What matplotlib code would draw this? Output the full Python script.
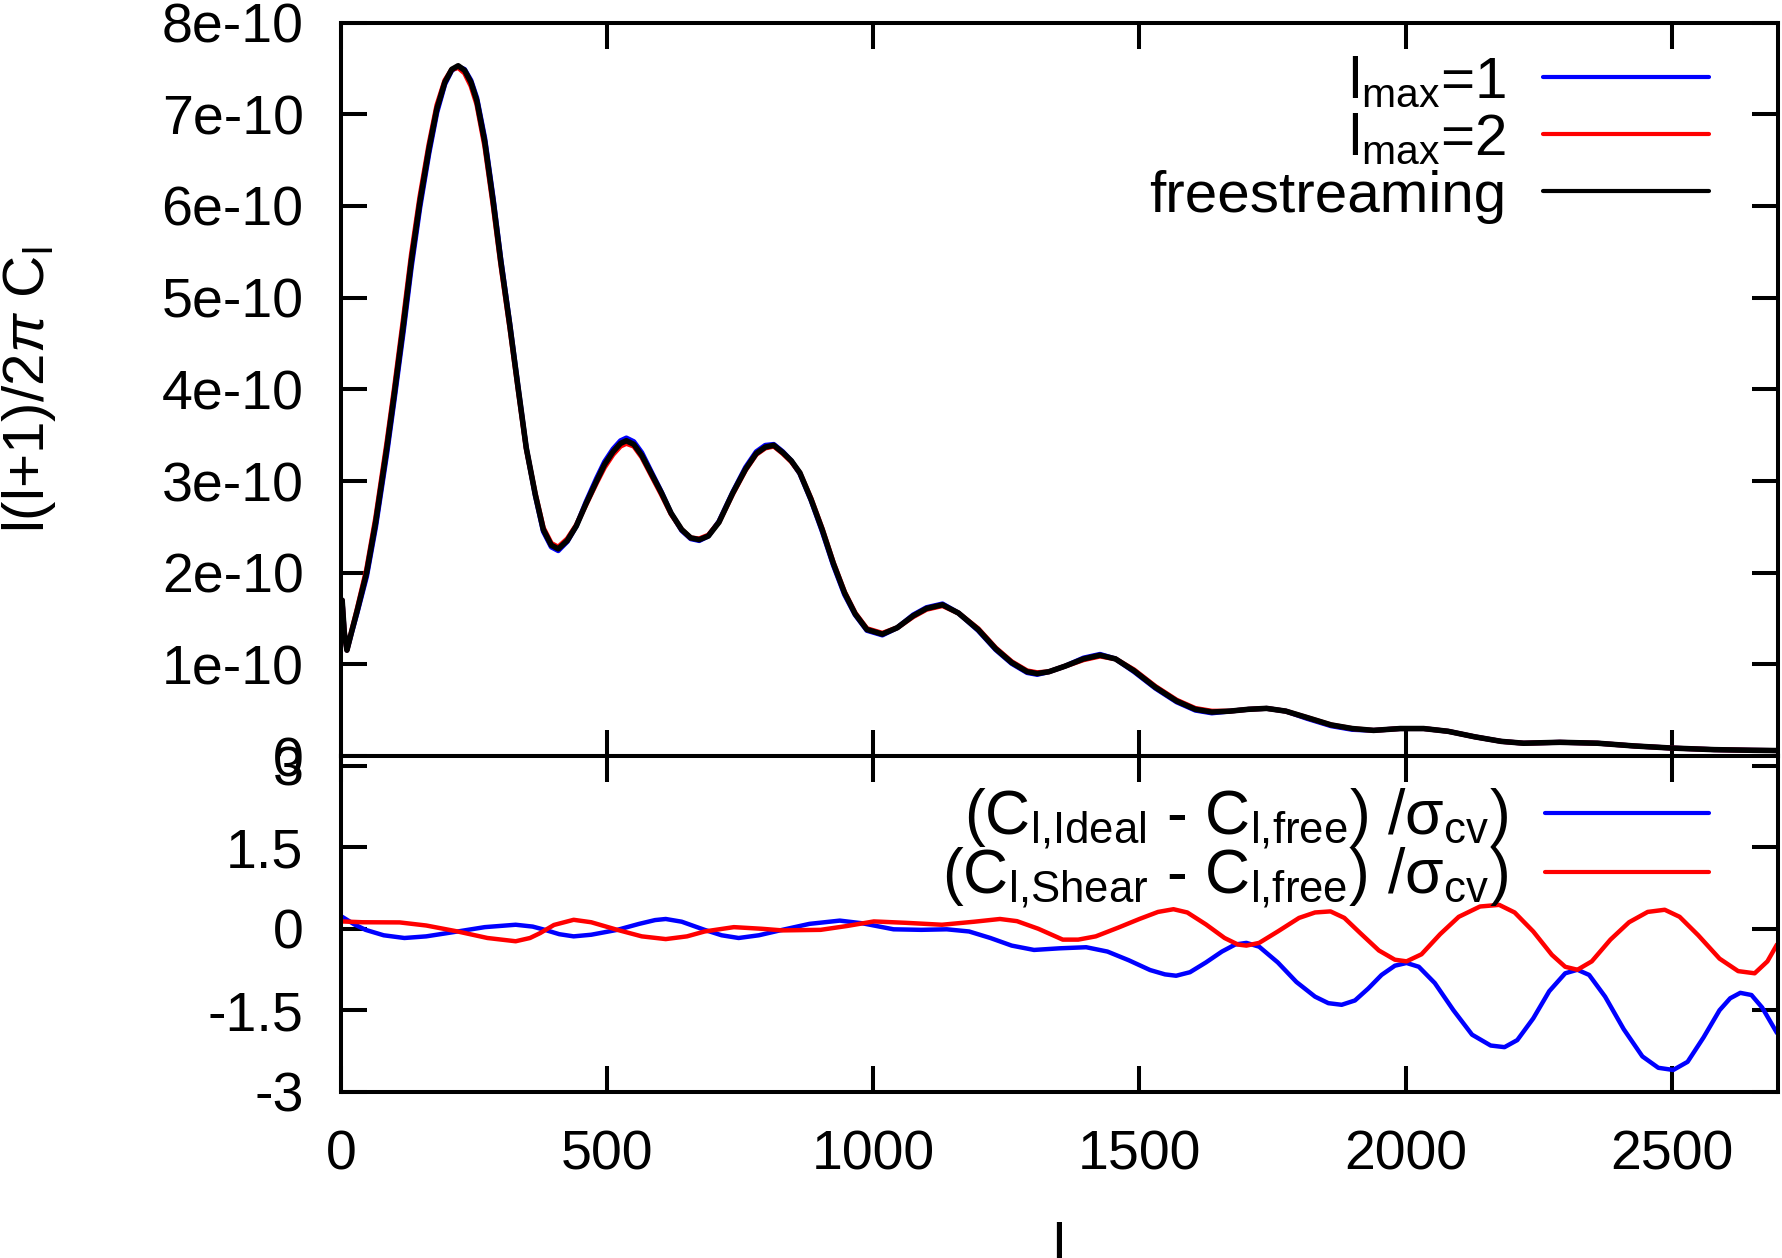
import matplotlib
matplotlib.use("Agg")
import matplotlib.pyplot as plt

plt.rcParams['font.family'] = ['Liberation Sans', 'DejaVu Sans']
plt.rcParams['mathtext.fontset'] = 'custom'
plt.rcParams['mathtext.rm'] = 'Liberation Sans'
plt.rcParams['mathtext.it'] = 'Liberation Sans:italic'
plt.rcParams['mathtext.bf'] = 'Liberation Sans:bold'

# ---- top panel: l(l+1)/2pi C_l, in units of 1e-10 ----
ell_top = [2, 6, 11, 20, 30, 48, 65, 86, 100, 117, 132, 148, 165, 180, 195,
           208, 220, 232, 244, 255, 270, 286, 300, 317, 333, 348, 365, 380,
           395, 408, 425, 442, 460, 480, 495, 511, 525, 536, 550, 565, 583,
           602, 620, 640, 657, 673, 690, 710, 736, 760, 780, 797, 813, 830,
           846, 862, 883, 904, 925, 946, 966, 988, 1017, 1045, 1075, 1100,
           1130, 1160, 1197, 1230, 1260, 1289, 1308, 1330, 1360, 1395, 1426,
           1455, 1490, 1530, 1570, 1605, 1636, 1670, 1705, 1739, 1775, 1815,
           1860, 1900, 1940, 1990, 2034, 2080, 2130, 2180, 2222, 2290, 2361,
           2430, 2501, 2580, 2650, 2697]
cl_free = [1.70, 1.35, 1.155, 1.36, 1.58, 2.00, 2.55, 3.36, 3.95, 4.70, 5.40,
           6.04, 6.62, 7.06, 7.35, 7.49, 7.53, 7.48, 7.35, 7.15, 6.70, 6.04,
           5.40, 4.70, 4.00, 3.36, 2.85, 2.47, 2.30, 2.26, 2.35, 2.51, 2.75,
           3.00, 3.18, 3.32, 3.41, 3.44, 3.40, 3.28, 3.08, 2.87, 2.65, 2.47,
           2.38, 2.36, 2.40, 2.55, 2.87, 3.13, 3.30, 3.37, 3.39, 3.31, 3.22,
           3.09, 2.80, 2.47, 2.10, 1.78, 1.55, 1.38, 1.33, 1.40, 1.53, 1.61,
           1.65, 1.56, 1.38, 1.17, 1.02, 0.92, 0.90, 0.92, 0.98, 1.06, 1.10,
           1.06, 0.93, 0.75, 0.60, 0.51, 0.48, 0.49, 0.51, 0.52, 0.49, 0.42,
           0.34, 0.30, 0.28, 0.30, 0.30, 0.27, 0.21, 0.16, 0.14, 0.15, 0.14,
           0.11, 0.087, 0.07, 0.063, 0.06]
cl_lmax1 = [1.70, 1.35, 1.155, 1.35, 1.56, 1.96, 2.50, 3.30, 3.89, 4.63, 5.33,
            5.98, 6.57, 7.02, 7.33, 7.48, 7.52, 7.49, 7.37, 7.18, 6.74, 6.08,
            5.43, 4.72, 4.01, 3.36, 2.84, 2.45, 2.28, 2.24, 2.34, 2.51, 2.77,
            3.03, 3.21, 3.35, 3.44, 3.47, 3.43, 3.31, 3.10, 2.88, 2.65, 2.46,
            2.37, 2.35, 2.40, 2.56, 2.88, 3.15, 3.32, 3.39, 3.40, 3.32, 3.22,
            3.08, 2.79, 2.45, 2.08, 1.76, 1.54, 1.37, 1.32, 1.40, 1.54, 1.62,
            1.66, 1.56, 1.37, 1.16, 1.01, 0.91, 0.89, 0.92, 0.98, 1.07, 1.11,
            1.06, 0.92, 0.74, 0.59, 0.50, 0.47, 0.49, 0.51, 0.52, 0.49, 0.41,
            0.33, 0.29, 0.28, 0.30, 0.30, 0.27, 0.21, 0.16, 0.14, 0.15, 0.14,
            0.11, 0.087, 0.07, 0.063, 0.06]
cl_lmax2 = [1.70, 1.35, 1.155, 1.37, 1.60, 2.04, 2.60, 3.42, 4.01, 4.77, 5.47,
            6.10, 6.67, 7.10, 7.37, 7.49, 7.51, 7.45, 7.31, 7.11, 6.65, 5.99,
            5.36, 4.67, 3.98, 3.35, 2.86, 2.49, 2.32, 2.28, 2.37, 2.52, 2.74,
            2.98, 3.15, 3.29, 3.38, 3.41, 3.38, 3.26, 3.06, 2.85, 2.64, 2.47,
            2.38, 2.37, 2.41, 2.55, 2.86, 3.12, 3.29, 3.36, 3.38, 3.30, 3.21,
            3.09, 2.81, 2.48, 2.11, 1.79, 1.56, 1.39, 1.34, 1.40, 1.52, 1.60,
            1.64, 1.56, 1.39, 1.18, 1.03, 0.93, 0.91, 0.92, 0.98, 1.05, 1.09,
            1.06, 0.94, 0.76, 0.61, 0.52, 0.49, 0.49, 0.51, 0.52, 0.49, 0.42,
            0.34, 0.30, 0.28, 0.30, 0.30, 0.27, 0.21, 0.16, 0.14, 0.15, 0.14,
            0.11, 0.087, 0.07, 0.063, 0.06]

# ---- bottom panel: (C_l,x - C_l,free)/sigma_cv ----
ell_ideal = [2, 25, 46, 80, 119, 160, 219, 270, 328, 360, 383, 410, 437, 470,
             519, 560, 590, 610, 640, 683, 715, 747, 785, 829, 880, 937, 980,
             1038, 1090, 1138, 1180, 1220, 1260, 1302, 1350, 1400, 1440, 1480,
             1520, 1548, 1569, 1595, 1625, 1655, 1680, 1701, 1725, 1760, 1795,
             1830, 1855, 1880, 1905, 1930, 1955, 1980, 2002, 2025, 2055, 2090,
             2125, 2160, 2186, 2210, 2240, 2270, 2300, 2323, 2345, 2375, 2410,
             2445, 2475, 2503, 2530, 2560, 2590, 2610, 2629, 2650, 2670, 2698]
dev_ideal = [0.22, 0.08, -0.02, -0.12, -0.17, -0.14, -0.05, 0.03, 0.074, 0.04,
             -0.02, -0.10, -0.14, -0.11, -0.02, 0.09, 0.16, 0.18, 0.13, -0.02,
             -0.12, -0.17, -0.12, -0.02, 0.09, 0.15, 0.10, -0.01, -0.02, -0.01,
             -0.05, -0.17, -0.31, -0.39, -0.36, -0.34, -0.42, -0.58, -0.76,
             -0.84, -0.865, -0.80, -0.62, -0.42, -0.29, -0.26, -0.33, -0.62,
             -0.98, -1.25, -1.37, -1.40, -1.32, -1.10, -0.85, -0.68, -0.63,
             -0.70, -1.00, -1.50, -1.95, -2.15, -2.18, -2.05, -1.65, -1.15,
             -0.82, -0.755, -0.85, -1.25, -1.85, -2.35, -2.56, -2.60, -2.45,
             -2.00, -1.50, -1.28, -1.18, -1.22, -1.45, -1.92]

ell_shear = [2, 40, 110, 160, 219, 275, 328, 355, 374, 400, 437, 470, 519, 565,
             610, 650, 683, 738, 790, 829, 901, 950, 1001, 1060, 1129, 1190,
             1238, 1270, 1310, 1356, 1385, 1418, 1460, 1500, 1535, 1564, 1590,
             1625, 1660, 1685, 1701, 1725, 1760, 1800, 1830, 1859, 1885, 1915,
             1950, 1980, 2002, 2030, 2065, 2100, 2140, 2176, 2205, 2240, 2275,
             2300, 2323, 2350, 2385, 2420, 2455, 2487, 2515, 2550, 2590, 2625,
             2656, 2680, 2698]
dev_shear = [0.135, 0.12, 0.117, 0.06, -0.05, -0.17, -0.23, -0.17, -0.08, 0.07,
             0.165, 0.12, -0.02, -0.14, -0.19, -0.14, -0.05, 0.03, 0.0, -0.03,
             -0.02, 0.05, 0.135, 0.11, 0.074, 0.13, 0.18, 0.14, 0.0, -0.20,
             -0.20, -0.14, 0.02, 0.18, 0.31, 0.36, 0.30, 0.08, -0.17, -0.29,
             -0.31, -0.26, -0.05, 0.20, 0.30, 0.32, 0.20, -0.08, -0.40, -0.57,
             -0.60, -0.47, -0.10, 0.22, 0.41, 0.44, 0.30, -0.05, -0.48, -0.70,
             -0.755, -0.60, -0.20, 0.12, 0.31, 0.35, 0.22, -0.12, -0.55, -0.78,
             -0.82, -0.60, -0.29]

top_yticks = [0, 1, 2, 3, 4, 5, 6, 7, 8]
top_yticklabels = ['0', '1e-10', '2e-10', '3e-10', '4e-10', '5e-10', '6e-10',
                   '7e-10', '8e-10']
bot_yticks = [-3, -1.5, 0, 1.5, 3]
bot_yticklabels = ['-3', '-1.5', '0', '1.5', '3']
xticks = [0, 500, 1000, 1500, 2000, 2500]

fig = plt.figure(figsize=(17.82, 12.58), dpi=100)
ax1 = fig.add_axes([0.1914, 0.399, 0.8064, 0.583])
ax2 = fig.add_axes([0.1914, 0.1322, 0.8064, 0.2668])

line_kw = dict(solid_joinstyle='round', solid_capstyle='round')
ax1.plot(ell_top, cl_lmax1, color='#0000ff', lw=3.6, label=r'l$_{\mathregular{max}}$=1', **line_kw)
ax1.plot(ell_top, cl_lmax2, color='#ff0000', lw=3.6, label=r'l$_{\mathregular{max}}$=2', **line_kw)
ax1.plot(ell_top, cl_free, color='black', lw=4.0, label='freestreaming', **line_kw)

ax2.plot(ell_ideal, dev_ideal, color='#0000ff', lw=3.2,
         label=r'(C$_{\mathregular{l{,}Ideal}}$ - C$_{\mathregular{l{,}free}}$) /σ$_{\mathregular{cv}}$)',
         **line_kw)
ax2.plot(ell_shear, dev_shear, color='#ff0000', lw=3.2,
         label=r'(C$_{\mathregular{l{,}Shear}}$ - C$_{\mathregular{l{,}free}}$) /σ$_{\mathregular{cv}}$)',
         **line_kw)

for ax in (ax1, ax2):
    ax.set_xlim(0, 2700)
    ax.set_xticks(xticks)
    for sp in ax.spines.values():
        sp.set_linewidth(2.9)
    ax.tick_params(direction='in', length=19, width=2.9, top=True, right=True,
                   labelsize=40, pad=27)

ax1.set_ylim(0, 8)
ax1.set_yticks(top_yticks)
ax1.set_yticklabels(top_yticklabels)
ax1.tick_params(labelbottom=False)

ax2.set_ylim(-3, 3.18)
ax2.set_yticks(bot_yticks)
ax2.set_yticklabels(bot_yticklabels)
ax2.set_xticklabels([str(x) for x in xticks])

leg_kw = dict(frameon=False, markerfirst=False, loc='upper right',
              borderpad=0, borderaxespad=0)
leg1 = ax1.legend(bbox_to_anchor=(0.959, 0.956), bbox_transform=fig.transFigure,
                  fontsize=42, handlelength=2.85, handletextpad=0.63,
                  labelspacing=0.05, **leg_kw)
leg2 = ax2.legend(bbox_to_anchor=(0.959, 0.3745), bbox_transform=fig.transFigure,
                  fontsize=45, handlelength=2.62, handletextpad=0.59,
                  labelspacing=-0.105, **leg_kw)
for leg in (leg1, leg2):
    for h in leg.get_lines():
        h.set_linewidth(3.0)

fig.text(0.0163, 0.69, r'l(l+1)/2$\pi$ C$_{\mathregular{l}}$', rotation=90,
         ha='center', va='center', fontsize=42)
fig.text(0.594, 0.0286, 'l', ha='center', va='top', fontsize=42)

fig.savefig('out.png', dpi=100)
